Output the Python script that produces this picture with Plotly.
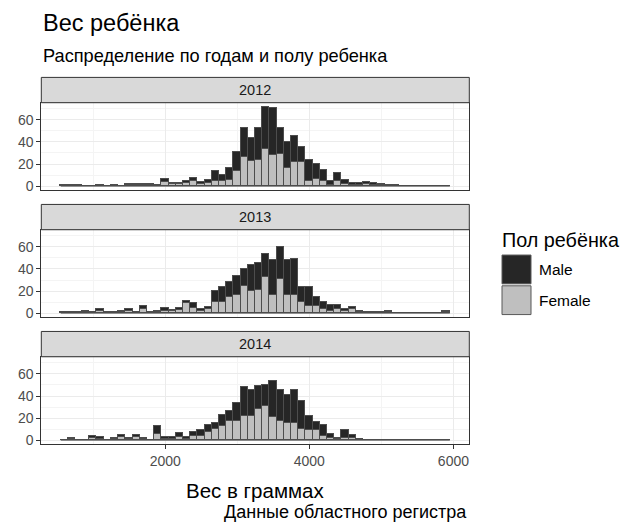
import plotly.graph_objects as go

# ---------------- data ----------------
BIN_WIDTH = 100
bin_centers = list(range(600, 6000, 100))  # 54 bins: 550..5950

years = ["2012", "2013", "2014"]

male_2012 = [1, 0, 1, 0, 0, 1, 0, 0, 0, 1, 1, 1, 1, 1, 3, 1, 1, 2, 3, 2, 3, 9, 5, 11, 17, 26, 21, 29, 38,
             43, 24, 23, 24, 14, 19, 13, 10, 4, 7, 4, 2, 2, 2, 2, 1, 1, 0, 0, 0, 0, 0, 0, 0, 0]
female_2012 = [0, 1, 0, 0, 0, 0, 0, 1, 0, 1, 1, 1, 1, 0, 4, 2, 2, 3, 5, 2, 3, 5, 5, 6, 14, 27, 23, 24, 34,
               28, 29, 17, 22, 22, 5, 7, 5, 1, 5, 2, 1, 1, 2, 1, 1, 0, 1, 0, 0, 0, 0, 0, 0, 0]

male_2013 = [1, 0, 1, 1, 1, 2, 1, 0, 1, 2, 1, 3, 0, 1, 3, 1, 2, 2, 4, 2, 2, 10, 14, 13, 17, 15, 24, 25, 21,
             31, 29, 31, 32, 14, 17, 8, 6, 6, 4, 2, 2, 1, 1, 1, 0, 1, 0, 0, 0, 0, 0, 0, 0, 1]
female_2013 = [0, 1, 0, 1, 0, 2, 0, 1, 1, 2, 0, 4, 1, 1, 2, 2, 3, 9, 5, 2, 4, 10, 10, 15, 17, 25, 20, 21, 33,
               17, 31, 17, 17, 10, 7, 7, 4, 2, 4, 2, 4, 1, 0, 0, 1, 1, 0, 0, 0, 0, 0, 0, 0, 1]

male_2014 = [0, 1, 0, 0, 2, 2, 0, 1, 2, 1, 2, 1, 0, 7, 2, 2, 4, 2, 4, 5, 6, 6, 10, 9, 16, 26, 24, 21, 19,
             33, 28, 25, 30, 26, 13, 8, 10, 4, 1, 7, 3, 1, 0, 0, 0, 0, 0, 0, 0, 0, 0, 0, 0, 0]
female_2014 = [0, 1, 0, 0, 2, 1, 0, 1, 3, 1, 3, 1, 0, 6, 1, 1, 3, 1, 4, 4, 8, 10, 13, 18, 18, 22, 22, 28, 31,
               21, 18, 16, 16, 10, 9, 9, 4, 2, 1, 2, 2, 0, 0, 0, 0, 0, 0, 0, 0, 0, 0, 0, 0, 0]

male_by_year = [male_2012, male_2013, male_2014]
female_by_year = [female_2012, female_2013, female_2014]

x_ticks = [2000, 4000, 6000]
x_minor = [1000, 3000, 5000]
y_ticks = [0, 20, 40, 60]
y_minor = [10, 30, 50, 70]

title = "Вес ребёнка"
subtitle = "Распределение по годам и полу ребенка"
x_title = "Вес в граммах"
caption = "Данные областного регистра"
legend_title = "Пол ребёнка"
legend_labels = ["Male", "Female"]

# ---------------- styling / layout ----------------
W, H = 622, 523
FONT = "Liberation Sans"
MALE_FILL = "#262626"
FEMALE_FILL = "#BFBFBF"
OUTLINE = "#4D4D4D"
GRID = "#EBEBEB"
GRID_MINOR = "#F4F4F4"
BORDER = "#333333"


def fx(p):
    return p / W


def fy(p):
    return 1 - p / H


panel_left, panel_right = 41.3, 469.3
strips = [(78, 103.5), (206, 231.5), (334, 359.5)]
panels = [(103.5, 191.5), (231.5, 319.5), (359.5, 447.5)]

lo_edge = bin_centers[0] - BIN_WIDTH / 2
hi_edge = bin_centers[-1] + BIN_WIDTH / 2
span = hi_edge - lo_edge
x_range = [lo_edge - 0.05 * span, hi_edge + 0.05 * span]
ymax = max(m + f for mm, ff in zip(male_by_year, female_by_year) for m, f in zip(mm, ff))
y_range = [-0.05 * ymax, 1.05 * ymax]

fig = go.Figure()
layout = dict(
    width=W, height=H,
    margin=dict(l=0, r=0, t=0, b=0),
    paper_bgcolor="white", plot_bgcolor="white",
    barmode="stack", bargap=0,
    showlegend=False,
    font=dict(family=FONT, color="black"),
)

shapes = []
annotations = []

for i in range(3):
    n = i + 1
    xa = "x" if n == 1 else f"x{n}"
    ya = "y" if n == 1 else f"y{n}"
    bottom = (i == 2)
    fig.add_trace(go.Bar(
        x=bin_centers, y=female_by_year[i], width=BIN_WIDTH,
        marker=dict(color=FEMALE_FILL, line=dict(color=OUTLINE, width=1)),
        name="Female", xaxis=xa, yaxis=ya,
    ))
    fig.add_trace(go.Bar(
        x=bin_centers, y=male_by_year[i], width=BIN_WIDTH,
        marker=dict(color=MALE_FILL, line=dict(color=OUTLINE, width=1)),
        name="Male", xaxis=xa, yaxis=ya,
    ))
    # outline of empty bins along the baseline
    fig.add_trace(go.Scatter(
        x=[lo_edge, hi_edge], y=[0, 0], mode="lines",
        line=dict(color=OUTLINE, width=1), xaxis=xa, yaxis=ya, hoverinfo="skip",
    ))

    top, bot = panels[i]
    xkey = "xaxis" if n == 1 else f"xaxis{n}"
    ykey = "yaxis" if n == 1 else f"yaxis{n}"
    layout[xkey] = dict(
        domain=[fx(panel_left), fx(panel_right)], anchor=ya,
        range=x_range, tickvals=x_ticks,
        showgrid=True, gridcolor=GRID, gridwidth=1,
        minor=dict(tickvals=x_minor, showgrid=True, gridcolor=GRID_MINOR, gridwidth=1, ticks=""),
        zeroline=False, showline=True, mirror=True, linecolor=BORDER, linewidth=1,
        ticks="outside" if bottom else "", ticklen=4, tickcolor=BORDER,
        showticklabels=bottom,
        tickfont=dict(family=FONT, size=14, color="#4D4D4D"),
    )
    layout[ykey] = dict(
        domain=[fy(bot), fy(top)], anchor=xa,
        range=y_range, tickvals=y_ticks,
        showgrid=True, gridcolor=GRID, gridwidth=1,
        minor=dict(tickvals=y_minor, showgrid=True, gridcolor=GRID_MINOR, gridwidth=1, ticks=""),
        zeroline=False, showline=True, mirror=True, linecolor=BORDER, linewidth=1,
        ticks="outside", ticklen=4, tickcolor=BORDER,
        tickfont=dict(family=FONT, size=14, color="#4D4D4D"),
    )

    s_top, s_bot = strips[i]
    shapes.append(dict(type="rect", xref="paper", yref="paper",
                       x0=fx(panel_left), x1=fx(panel_right), y0=fy(s_bot), y1=fy(s_top),
                       fillcolor="#D9D9D9", line=dict(color=BORDER, width=1), layer="above"))
    annotations.append(dict(text=years[i], xref="paper", yref="paper",
                            x=fx((panel_left + panel_right) / 2), y=fy((s_top + s_bot) / 2),
                            xanchor="center", yanchor="middle", showarrow=False,
                            font=dict(family=FONT, size=14.5, color="#1A1A1A")))

# titles
annotations += [
    dict(text=title, xref="paper", yref="paper", x=fx(41), y=fy(23), xanchor="left", yanchor="middle",
         showarrow=False, font=dict(family=FONT, size=23.5, color="black")),
    dict(text=subtitle, xref="paper", yref="paper", x=fx(41), y=fy(56), xanchor="left", yanchor="middle",
         showarrow=False, font=dict(family=FONT, size=18.2, color="black")),
    dict(text=x_title, xref="paper", yref="paper", x=fx((panel_left + panel_right) / 2), y=fy(494),
         xanchor="center", yanchor="middle", showarrow=False, font=dict(family=FONT, size=20.5, color="black")),
    dict(text=caption, xref="paper", yref="paper", x=fx(469), y=fy(516), xanchor="right", yanchor="middle",
         showarrow=False, font=dict(family=FONT, size=18, color="black")),
    dict(text=legend_title, xref="paper", yref="paper", x=fx(500), y=fy(242), xanchor="left", yanchor="middle",
         showarrow=False, font=dict(family=FONT, size=19.8, color="black")),
]

# legend keys (manual, ggplot-style large keys)
key_fills = [MALE_FILL, FEMALE_FILL]
key_tops = [257, 288]
for lab, fill, kt in zip(legend_labels, key_fills, key_tops):
    shapes.append(dict(type="rect", xref="paper", yref="paper",
                       x0=fx(502), x1=fx(531), y0=fy(kt + 29), y1=fy(kt),
                       fillcolor=fill, line=dict(color="#595959", width=1)))
    annotations.append(dict(text=lab, xref="paper", yref="paper", x=fx(537), y=fy(kt + 14.5),
                            xanchor="left", yanchor="middle", showarrow=False,
                            font=dict(family=FONT, size=15.5, color="black")))

layout["shapes"] = shapes
layout["annotations"] = annotations
fig.update_layout(**layout)

fig.write_html("out.html")
